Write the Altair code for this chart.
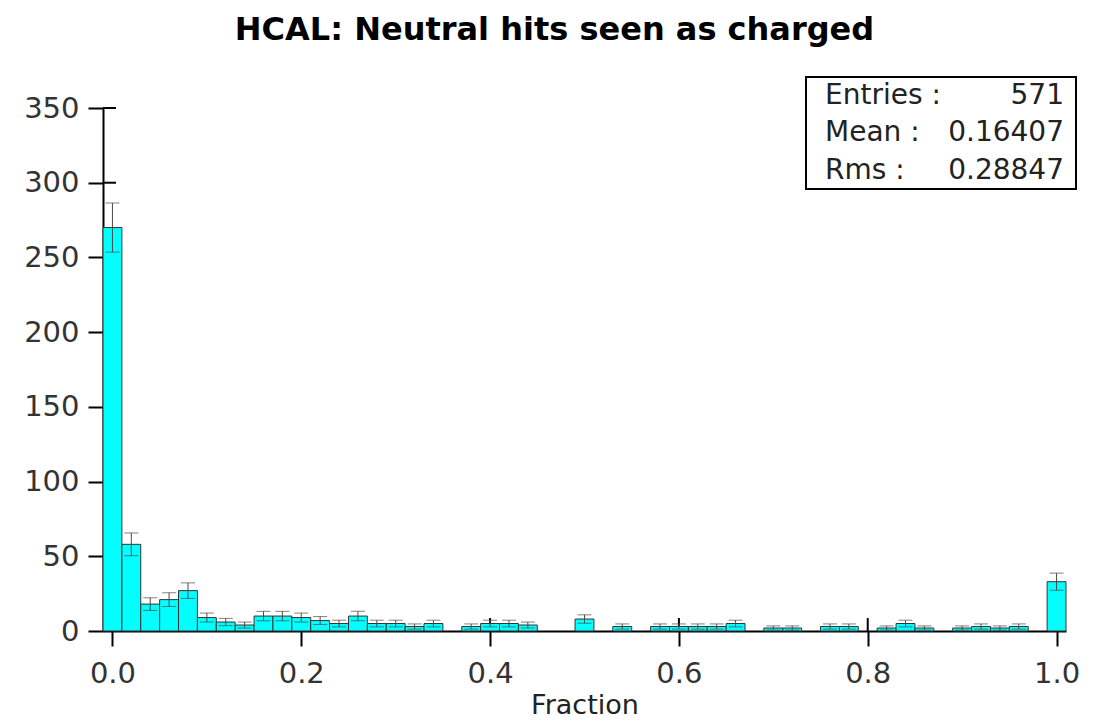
import altair as alt
import pandas as pd
import numpy as np

# bin centers (width 0.02) and counts
centers = [round(i * 0.02, 2) for i in range(51)]
counts = [270, 58, 18, 21, 27, 9, 6, 4, 10, 10,
          9, 7, 5, 10, 5, 5, 3, 5, 0, 3,
          5, 5, 4, 0, 0, 8, 0, 3, 0, 3,
          3, 3, 3, 5, 0, 2, 2, 0, 3, 3,
          0, 2, 5, 2, 0, 2, 3, 2, 3, 0,
          33]
x_ticks = [0.0, 0.2, 0.4, 0.6, 0.8, 1.0]
y_ticks = [0, 50, 100, 150, 200, 250, 300, 350]
stats_labels = ["Entries :", "Mean :", "Rms :"]
stats_values = ["571", "0.16407", "0.28847"]

bw = 0.02
df = pd.DataFrame({"center": centers, "count": counts})
df = df[df["count"] > 0].copy()
df["x0"] = df["center"] - bw / 2
df["x1"] = df["center"] + bw / 2
df["err"] = np.sqrt(df["count"])
df["lo"] = df["count"] - df["err"]
df["hi"] = df["count"] + df["err"]

FONT = "DejaVu Sans"
W, H = 963, 523
xscale = alt.Scale(domain=[-0.01, 1.01], nice=False, zero=False)
yscale = alt.Scale(domain=[0, 350], nice=False)

xaxis = alt.Axis(title="Fraction", values=x_ticks, format=".1f",
                 grid=False, domainColor="black", domainWidth=2,
                 tickColor="black", tickWidth=2, tickSize=15,
                 labelFont=FONT, labelFontSize=29, labelColor="#333333",
                 labelPadding=13, titleFont=FONT, titleFontSize=27,
                 titleFontWeight="normal", titleColor="#222222", titlePadding=4)
yaxis = alt.Axis(title=None, values=y_ticks, grid=False,
                 domainColor="black", domainWidth=2,
                 tickColor="black", tickWidth=2, tickSize=15,
                 labelFont=FONT, labelFontSize=29, labelColor="#333333",
                 labelPadding=9)

# inner halves of the tick marks (axis ticks cross the axis line)
xt = alt.Chart(pd.DataFrame({"v": x_ticks})).mark_rule(color="black", strokeWidth=2).encode(
    x=alt.X("v:Q", scale=xscale, axis=xaxis), y=alt.value(H), y2=alt.value(H - 13))
yt = alt.Chart(pd.DataFrame({"v": y_ticks})).mark_rule(color="black", strokeWidth=2).encode(
    y=alt.Y("v:Q", scale=yscale, axis=yaxis), x=alt.value(0), x2=alt.value(13))

base = alt.Chart(df)

bars = base.mark_rect(color="#00FFFF", stroke="#333333", strokeWidth=1).encode(
    x=alt.X("x0:Q", scale=xscale, axis=xaxis),
    x2="x1:Q",
    y=alt.Y("count:Q", scale=yscale, axis=yaxis),
    y2=alt.Y2(datum=0),
)

err_rule = base.mark_rule(color="#4a4a4a", strokeWidth=1).encode(
    x=alt.X("center:Q", axis=xaxis), y=alt.Y("lo:Q", axis=yaxis), y2="hi:Q")
cap_hi = base.mark_tick(color="#4a4a4a", thickness=1, size=14, orient="horizontal").encode(
    x=alt.X("center:Q", axis=xaxis), y=alt.Y("hi:Q", axis=yaxis))
cap_lo = base.mark_tick(color="#4a4a4a", thickness=1, size=14, orient="horizontal").encode(
    x=alt.X("center:Q", axis=xaxis), y=alt.Y("lo:Q", axis=yaxis))

# statistics box (annotation, placed in pixels relative to the plot area)
box = alt.Chart(pd.DataFrame({"a": [0]})).mark_rect(
    fill="white", stroke="black", strokeWidth=2).encode(
    x=alt.value(703), x2=alt.value(973), y=alt.value(-31), y2=alt.value(81))
sdf = pd.DataFrame({"lab": stats_labels, "val": stats_values})
ypos = [-12, 25, 63]
lab_layers = []
for i in range(3):
    d = sdf.iloc[[i]]
    lab_layers.append(alt.Chart(d).mark_text(
        align="left", baseline="middle", font=FONT, fontSize=28, color="#222222").encode(
        text="lab:N", x=alt.value(722), y=alt.value(ypos[i])))
    lab_layers.append(alt.Chart(d).mark_text(
        align="right", baseline="middle", font=FONT, fontSize=28, color="#222222").encode(
        text="val:N", x=alt.value(961), y=alt.value(ypos[i])))

chart = alt.layer(xt, yt, bars, err_rule, cap_hi, cap_lo, box, *lab_layers).properties(
    width=W, height=H,
    title=alt.TitleParams("HCAL: Neutral hits seen as charged", font=FONT, fontSize=32,
                          fontWeight="bold", color="black", anchor="middle", dx=-30, offset=29),
    padding={"left": 95, "top": 100, "right": 22, "bottom": 87},
    autosize=alt.AutoSizeParams(type="none"),
).configure_view(stroke=None)

chart.save("out.html", embed_options={"renderer": "svg", "actions": False})
